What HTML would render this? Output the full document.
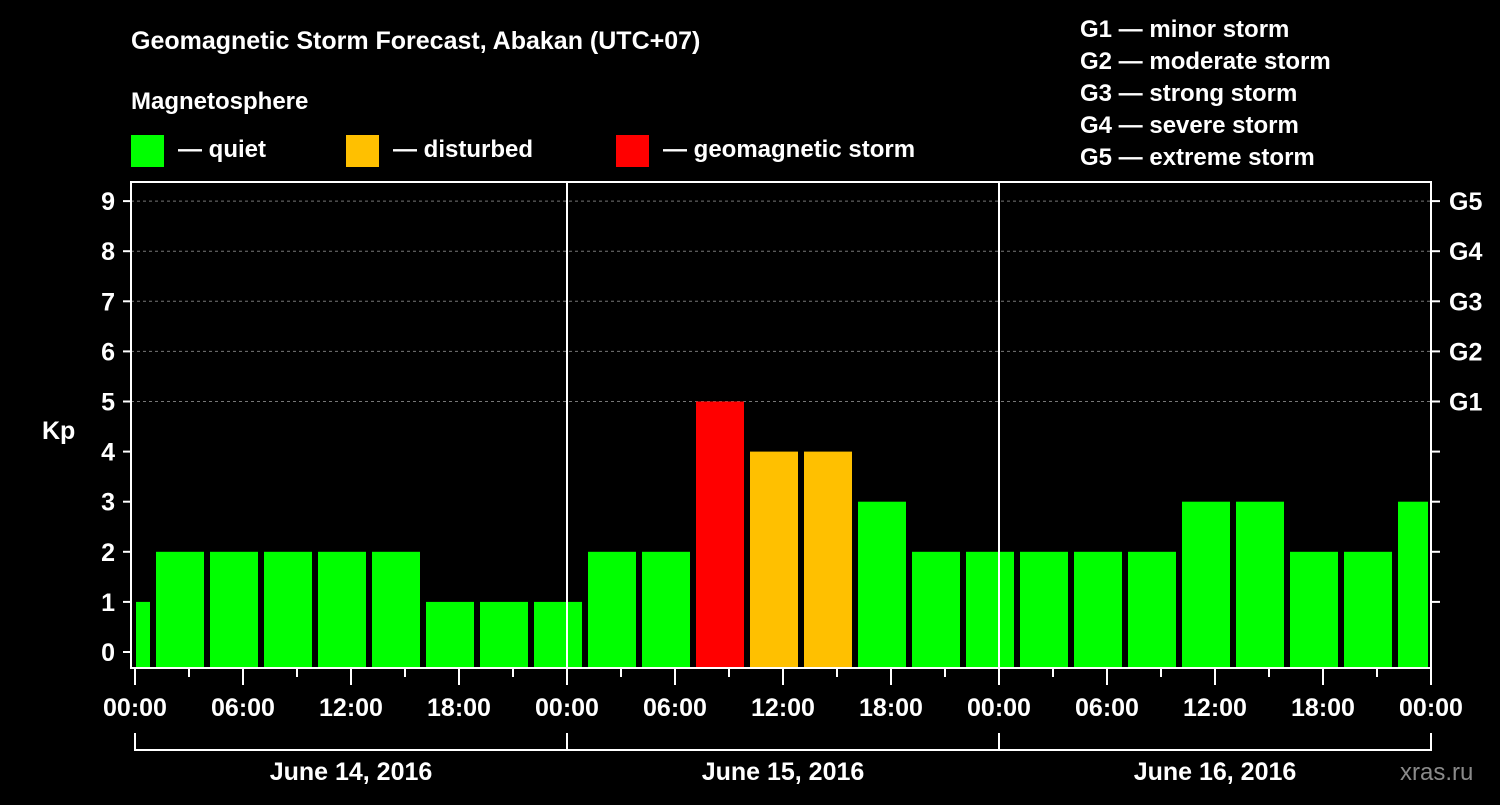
<!DOCTYPE html>
<html><head><meta charset="utf-8"><style>
body{margin:0;background:#000;width:1500px;height:800px;overflow:hidden}
svg text{font-family:"Liberation Sans",Arial,sans-serif;font-weight:bold;fill:#fff}
</style></head><body>
<svg id="chart" width="1500" height="800">
<text x="131" y="49" font-size="25">Geomagnetic Storm Forecast, Abakan (UTC+07)</text>
<text x="131" y="109" font-size="24">Magnetosphere</text>
<g><rect x="131" y="135" width="33" height="32" fill="#00ff00"/><text x="178" y="157" font-size="24">— quiet</text></g>
<g><rect x="346" y="135" width="33" height="32" fill="#ffc000"/><text x="393" y="157" font-size="24">— disturbed</text></g>
<g><rect x="616" y="135" width="33" height="32" fill="#ff0000"/><text x="663" y="157" font-size="24">— geomagnetic storm</text></g>
<g font-size="24">
<text x="1080" y="37">G1 — minor storm</text>
<text x="1080" y="69">G2 — moderate storm</text>
<text x="1080" y="101">G3 — strong storm</text>
<text x="1080" y="133">G4 — severe storm</text>
<text x="1080" y="165">G5 — extreme storm</text>
</g>
<text x="42" y="439" font-size="25">Kp</text>
<text x="1400" y="780" font-size="24" fill="#888" style="fill:#8a8a8a;font-weight:normal">xras.ru</text>
<g id="grid"></g><g id="bars"></g><g id="axes"></g>
</svg>
<script>
const kpValues=[1,2,2,2,2,2,1,1,1,2,2,5,4,4,3,2,2,2,2,2,3,3,2,2,3];
const yTicks=[0,1,2,3,4,5,6,7,8,9];
const gLabels=["G1","G2","G3","G4","G5"];
const xTickLabels=["00:00","06:00","12:00","18:00","00:00","06:00","12:00","18:00","00:00","06:00","12:00","18:00","00:00"];
const dayLabels=["June 14, 2016","June 15, 2016","June 16, 2016"];
const NS="http://www.w3.org/2000/svg";
const X0=135,X1=1431,TOP=182,BOT=668,HOURS=72;
const xs=h=>X0+(X1-X0)*h/HOURS;
const ys=v=>652-v*50.1;
function mk(t,a,p){const e=document.createElementNS(NS,t);for(const k in a)e.setAttribute(k,a[k]);p.appendChild(e);return e;}
const grid=document.getElementById('grid'),bars=document.getElementById('bars'),axes=document.getElementById('axes');
yTicks.forEach(v=>{if(v>=5){const l=mk('line',{x1:X0-4,x2:X1,y1:ys(v),y2:ys(v),stroke:'#777','stroke-dasharray':'3,3'},grid);

}});
kpValues.forEach((v,i)=>{const hs=-2+3*i,he=hs+3;let a=xs(hs)+3,b=xs(he)-3;a=Math.max(a,X0+1);b=Math.min(b,X1-3);
const c=v>=5?'#ff0000':(v>=4?'#ffc000':'#00ff00');
const r=mk('rect',{x:a,y:ys(v),width:b-a,height:BOT-1-ys(v),fill:c},bars);

});
const fr=mk('rect',{x:131,y:TOP,width:X1-131,height:BOT-TOP,fill:'none',stroke:'#fff','stroke-width':2},axes);


[24,48].forEach(h=>{mk('line',{x1:xs(h),x2:xs(h),y1:TOP,y2:BOT,stroke:'#fff','stroke-width':2},axes);});
yTicks.forEach(v=>{mk('line',{x1:123,x2:131,y1:ys(v),y2:ys(v),stroke:'#fff','stroke-width':2},axes);
const t=mk('text',{x:115,y:ys(v)+9,'font-size':25,'text-anchor':'end'},axes);t.textContent=v;


if(v>0)mk('line',{x1:X1,x2:X1+9,y1:ys(v),y2:ys(v),stroke:'#fff','stroke-width':2},axes);});
gLabels.forEach((g,i)=>{const t=mk('text',{x:1449,y:ys(5+i)+9,'font-size':25},axes);t.textContent=g;

});
for(let h=0;h<=HOURS;h+=3){const major=h%6===0;mk('line',{x1:xs(h),x2:xs(h),y1:BOT,y2:BOT+(major?17:9),stroke:'#fff','stroke-width':2},axes);}
xTickLabels.forEach((s,i)=>{const t=mk('text',{x:xs(i*6),y:716,'font-size':25,'text-anchor':'middle'},axes);t.textContent=s;

});
mk('path',{d:`M${xs(0)} 733V750H${xs(72)}V733M${xs(24)} 733V750M${xs(48)} 733V750`,stroke:'#fff','stroke-width':2,fill:'none'},axes);
dayLabels.forEach((s,i)=>{const t=mk('text',{x:xs(i*24+12),y:780,'font-size':25,'text-anchor':'middle'},axes);t.textContent=s;

});
</script>
</body></html>
